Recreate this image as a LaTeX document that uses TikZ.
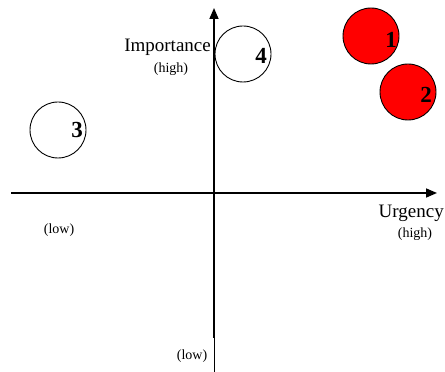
\documentclass[tikz,border=0pt]{standalone}
\usepackage{fontspec}
\setmainfont{Liberation Serif}
\usetikzlibrary{arrows.meta}
\begin{document}
\begin{tikzpicture}[x=1pt,y=1pt,
  axis/.style={line width=1.6pt,-{Triangle[length=11pt,width=9pt]}},
  bubble/.style={circle,draw,line width=0.9pt,minimum size=56pt,inner sep=0pt},
  hot/.style={bubble,fill=red},
  num/.style={font=\fontsize{23}{23}\selectfont\bfseries,inner sep=0pt},
  big/.style={font=\fontsize{19}{19}\selectfont,inner sep=0pt},
  small/.style={font=\fontsize{14}{14}\selectfont,inner sep=0pt}]
\useasboundingbox (0,0) rectangle (445,372);
\coordinate (xs) at (11,179);
\coordinate (xe) at (437,179);
\coordinate (ys) at (214,34);
\coordinate (yb) at (214,0);
\coordinate (ye) at (214,364);
\draw[axis] (xs) -- (xe);
\draw[axis] (ys) -- (ye);
\draw[line width=0.6pt] (yb) -- (ys);
\node[bubble] (c4) at (243,318) {};
\node[hot] (c1) at (371,336) {};
\node[hot] (c2) at (408,280) {};
\node[bubble] (c3) at (58,242) {};
\node[num] (n4) at (261,316) {4};
\node[num] (n1) at (391,332) {1};
\node[num] (n2) at (426,277) {2};
\node[num] (n3) at (77,242) {3};
\node[big,anchor=east] (imp) at (211,325) {Importance};
\node[small] (imph) at (171,303) {(high)};
\node[big,anchor=east] (urg) at (444,159) {Urgency};
\node[small] (urgh) at (415,138) {(high)};
\node[small] (lowx) at (59,142) {(low)};
\node[small] (lowy) at (192,16) {(low)};
\end{tikzpicture}
\end{document}
